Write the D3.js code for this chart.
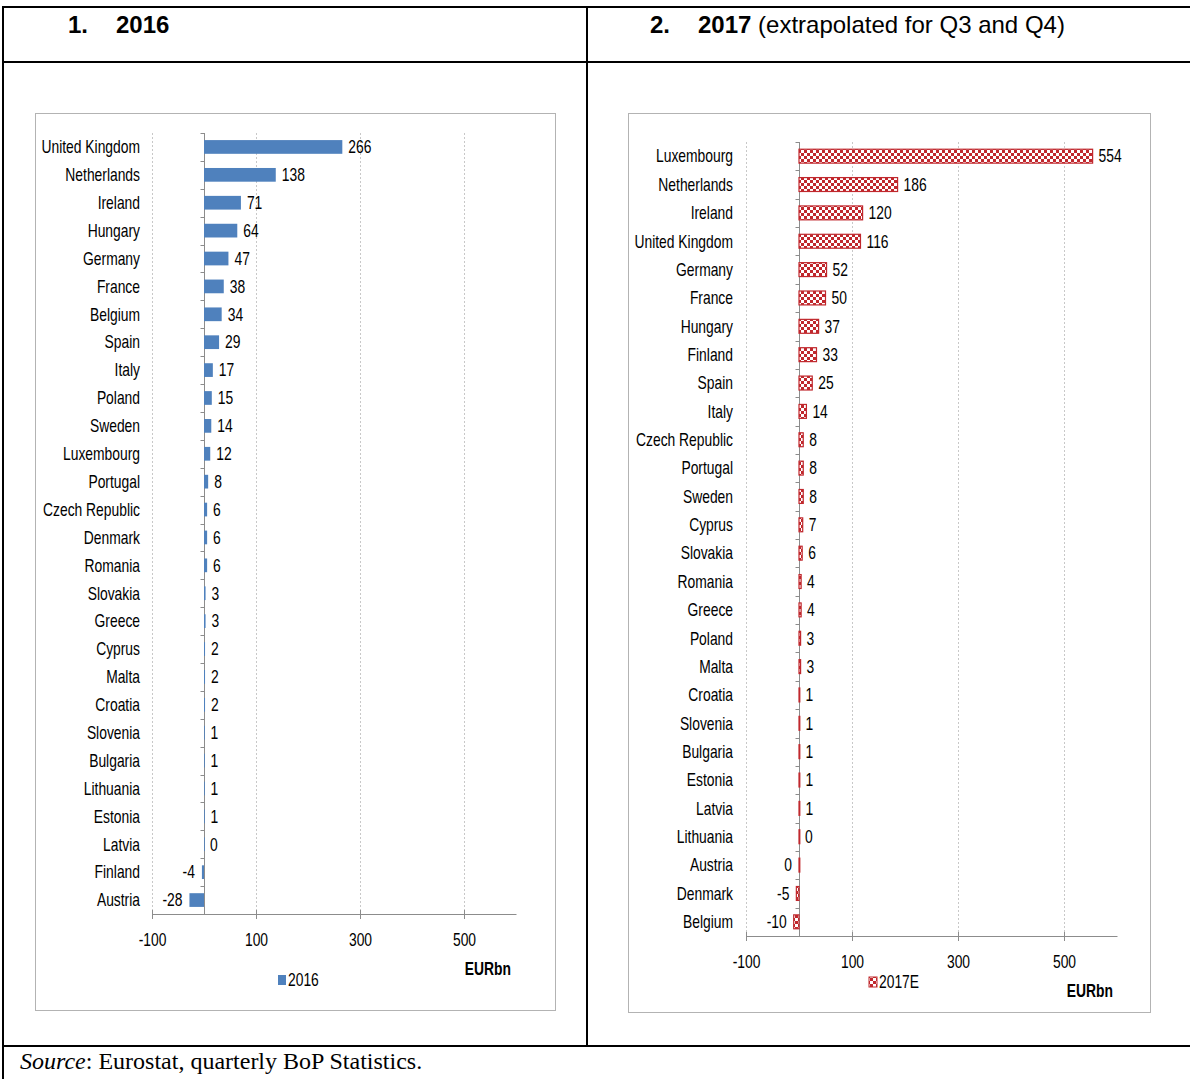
<!DOCTYPE html>
<html>
<head>
<meta charset="utf-8">
<script src="https://cdn.jsdelivr.net/npm/d3@7"></script>
<style>
  html, body { margin: 0; padding: 0; background: #fff; }
  svg { display: block; }
  .lbl { font-family: "Liberation Sans", Arial, sans-serif; font-size: 18px; fill: #000; }
  .hdr { font-family: "Liberation Sans", Arial, sans-serif; font-size: 24px; fill: #000; }
  .src { font-family: "Liberation Serif", "Times New Roman", serif; font-size: 24px; fill: #000; }
</style>
</head>
<body>
<svg id="page" width="1190" height="1079"></svg>
<script>
// Net FDI flows by member state, EUR billion
const countries2016 = ["United Kingdom","Netherlands","Ireland","Hungary","Germany","France","Belgium","Spain","Italy","Poland","Sweden","Luxembourg","Portugal","Czech Republic","Denmark","Romania","Slovakia","Greece","Cyprus","Malta","Croatia","Slovenia","Bulgaria","Lithuania","Estonia","Latvia","Finland","Austria"];
const values2016 = [266,138,71,64,47,38,34,29,17,15,14,12,8,6,6,6,3,3,2,2,2,1,1,1,1,0,-4,-28];

const countries2017 = ["Luxembourg","Netherlands","Ireland","United Kingdom","Germany","France","Hungary","Finland","Spain","Italy","Czech Republic","Portugal","Sweden","Cyprus","Slovakia","Romania","Greece","Poland","Malta","Croatia","Slovenia","Bulgaria","Estonia","Latvia","Lithuania","Austria","Denmark","Belgium"];
const values2017 = [554,186,120,116,52,50,37,33,25,14,8,8,8,7,6,4,4,3,3,1,1,1,1,1,0,-0,-5,-10];

const xTicks = [-100, 100, 300, 500];
const xDomain = [-100, 600];

// condensed look for chart text: horizontal squeeze of a regular face
const SQUEEZE = 0.77;

const svg = d3.select("#page");

// checkerboard fill for the extrapolated series
const defs = svg.append("defs");
const pat = defs.append("pattern")
  .attr("id", "checker").attr("patternUnits", "userSpaceOnUse")
  .attr("width", 6).attr("height", 6);
pat.append("rect").attr("width", 6).attr("height", 6).attr("fill", "#fff");
pat.append("rect").attr("width", 3).attr("height", 3).attr("fill", "#c0282d");
pat.append("rect").attr("x", 3).attr("y", 3).attr("width", 3).attr("height", 3).attr("fill", "#c0282d");

// table frame
const frame = svg.append("g").attr("stroke", "#000").attr("stroke-width", 2);
frame.append("line").attr("x1", 2).attr("x2", 1190).attr("y1", 7).attr("y2", 7);
frame.append("line").attr("x1", 3).attr("x2", 3).attr("y1", 6).attr("y2", 1079);
frame.append("line").attr("x1", 587).attr("x2", 587).attr("y1", 6).attr("y2", 1046);
frame.append("line").attr("x1", 2).attr("x2", 1190).attr("y1", 62).attr("y2", 62);
frame.append("line").attr("x1", 2).attr("x2", 1190).attr("y1", 1046).attr("y2", 1046);

// headers
const h1 = svg.append("text").attr("class", "hdr").attr("x", 68).attr("y", 33);
h1.append("tspan").attr("font-weight", "bold").text("1.");
h1.append("tspan").attr("x", 116).attr("font-weight", "bold").text("2016");

const h2 = svg.append("text").attr("class", "hdr").attr("x", 650).attr("y", 33);
h2.append("tspan").attr("font-weight", "bold").text("2.");
h2.append("tspan").attr("x", 698).attr("font-weight", "bold").text("2017");
h2.append("tspan").text(" (extrapolated for Q3 and Q4)");

// source note
const src = svg.append("text").attr("class", "src").attr("x", 20).attr("y", 1069);
src.append("tspan").attr("font-style", "italic").text("Source");
src.append("tspan").text(": Eurostat, quarterly BoP Statistics.");

// place a text element at (x, y) with the horizontal squeeze applied
function place(sel, fx, fy) {
  sel.attr("x", 0).attr("y", 0)
     .attr("transform", (d, i) => `translate(${fx(d, i)},${fy(d, i)}) scale(${SQUEEZE},1)`);
}

function drawChart(opt) {
  const g = svg.append("g");
  g.append("rect")
    .attr("x", opt.box[0] + 0.5).attr("y", opt.box[1] + 0.5)
    .attr("width", opt.box[2]).attr("height", opt.box[3])
    .attr("fill", "#fff").attr("stroke", "#b3b3b3");

  const x = d3.scaleLinear().domain(xDomain).range([opt.left, opt.right]);
  const y = d3.scaleBand().domain(opt.cats).range([opt.top, opt.bottom]).paddingInner(0.58).paddingOuter(0.29);
  const step = y.step();

  // dashed vertical gridlines
  g.append("g").selectAll("line").data(xTicks).join("line")
    .attr("x1", d => Math.round(x(d)) + 0.5).attr("x2", d => Math.round(x(d)) + 0.5)
    .attr("y1", opt.top).attr("y2", opt.bottom)
    .attr("stroke", "#c8c8c8").attr("stroke-dasharray", "2,2");

  // bottom value axis
  const xAxis = d3.axisBottom(x).tickValues(xTicks).tickSize(5).tickSizeOuter(0).tickFormat(d => String(d));
  const ax = g.append("g").attr("transform", `translate(0,${opt.bottom})`).call(xAxis);
  ax.select(".domain").attr("stroke", "#8c8c8c");
  ax.selectAll(".tick line").attr("stroke", "#8c8c8c").attr("y1", -4);
  ax.selectAll(".tick text")
    .attr("class", "lbl").attr("font-size", null).attr("font-family", null).attr("fill", "#000")
    .attr("dy", "0.35em")
    .call(place, () => 0, () => opt.tickDy);

  // category axis at zero
  const x0 = Math.round(x(0)) + 0.5;
  g.append("line").attr("x1", x0).attr("x2", x0).attr("y1", opt.top).attr("y2", opt.bottom).attr("stroke", "#8c8c8c");
  g.append("g").selectAll("line").data(d3.range(opt.cats.length + 1)).join("line")
    .attr("x1", x0 - 4).attr("x2", x0)
    .attr("y1", i => Math.round(opt.top + i * step) + 0.5).attr("y2", i => Math.round(opt.top + i * step) + 0.5)
    .attr("stroke", "#8c8c8c");

  // category names
  g.append("g").selectAll("text").data(opt.cats).join("text")
    .attr("class", "lbl").attr("text-anchor", "end").attr("dy", "0.35em")
    .call(place, () => opt.catX, d => y(d) + y.bandwidth() / 2)
    .text(d => d);

  const rows = opt.cats.map((c, i) => ({ c, v: opt.vals[i] }));
  const neg = d => d.v < 0 || Object.is(d.v, -0);

  // bars
  g.append("g").selectAll("rect").data(rows).join("rect")
    .attr("x", d => Math.min(x(0), x(d.v)))
    .attr("y", d => y(d.c) - 1)
    .attr("width", d => Math.max(Math.abs(x(d.v) - x(0)), opt.minW))
    .attr("height", y.bandwidth() + 2)
    .attr("fill", opt.fill)
    .attr("stroke", opt.stroke || "none")
    .attr("stroke-width", opt.stroke ? 1.2 : 0);

  // value labels
  g.append("g").selectAll("text").data(rows).join("text")
    .attr("class", "lbl").attr("dy", "0.35em")
    .attr("text-anchor", d => neg(d) ? "end" : "start")
    .call(place,
      d => neg(d) ? Math.min(x(0), x(d.v)) - 7 : Math.max(x(0), x(d.v)) + 6,
      d => y(d.c) + y.bandwidth() / 2)
    .text(d => String(Math.round(d.v)));

  // legend
  const lg = g.append("g");
  lg.append("rect").attr("x", opt.legend[0]).attr("y", opt.legend[1] - 5).attr("width", 8).attr("height", 10)
    .attr("fill", opt.fill).attr("stroke", opt.stroke || "none");
  lg.append("text").attr("class", "lbl").attr("dy", "0.35em")
    .call(place, () => opt.legend[0] + 10, () => opt.legend[1])
    .text(opt.series);

  g.append("text").attr("class", "lbl").attr("font-weight", "bold").attr("text-anchor", "end").attr("dy", "0.35em")
    .call(place, () => opt.unit[0], () => opt.unit[1])
    .text("EURbn");
}

drawChart({
  box: [35, 113, 520, 897],
  left: 152, right: 516, top: 133, bottom: 914,
  cats: countries2016, vals: values2016,
  fill: "#4f81bd", minW: 0.8, tickDy: 26,
  catX: 140, series: "2016",
  legend: [278, 980], unit: [511, 969]
});

drawChart({
  box: [628, 113, 522, 899],
  left: 746, right: 1117, top: 142, bottom: 936,
  cats: countries2017, vals: values2017,
  fill: "url(#checker)", stroke: "#c0282d", minW: 0.8, tickDy: 26,
  catX: 733, series: "2017E",
  legend: [869, 982], unit: [1113, 991]
});
</script>
</body>
</html>
